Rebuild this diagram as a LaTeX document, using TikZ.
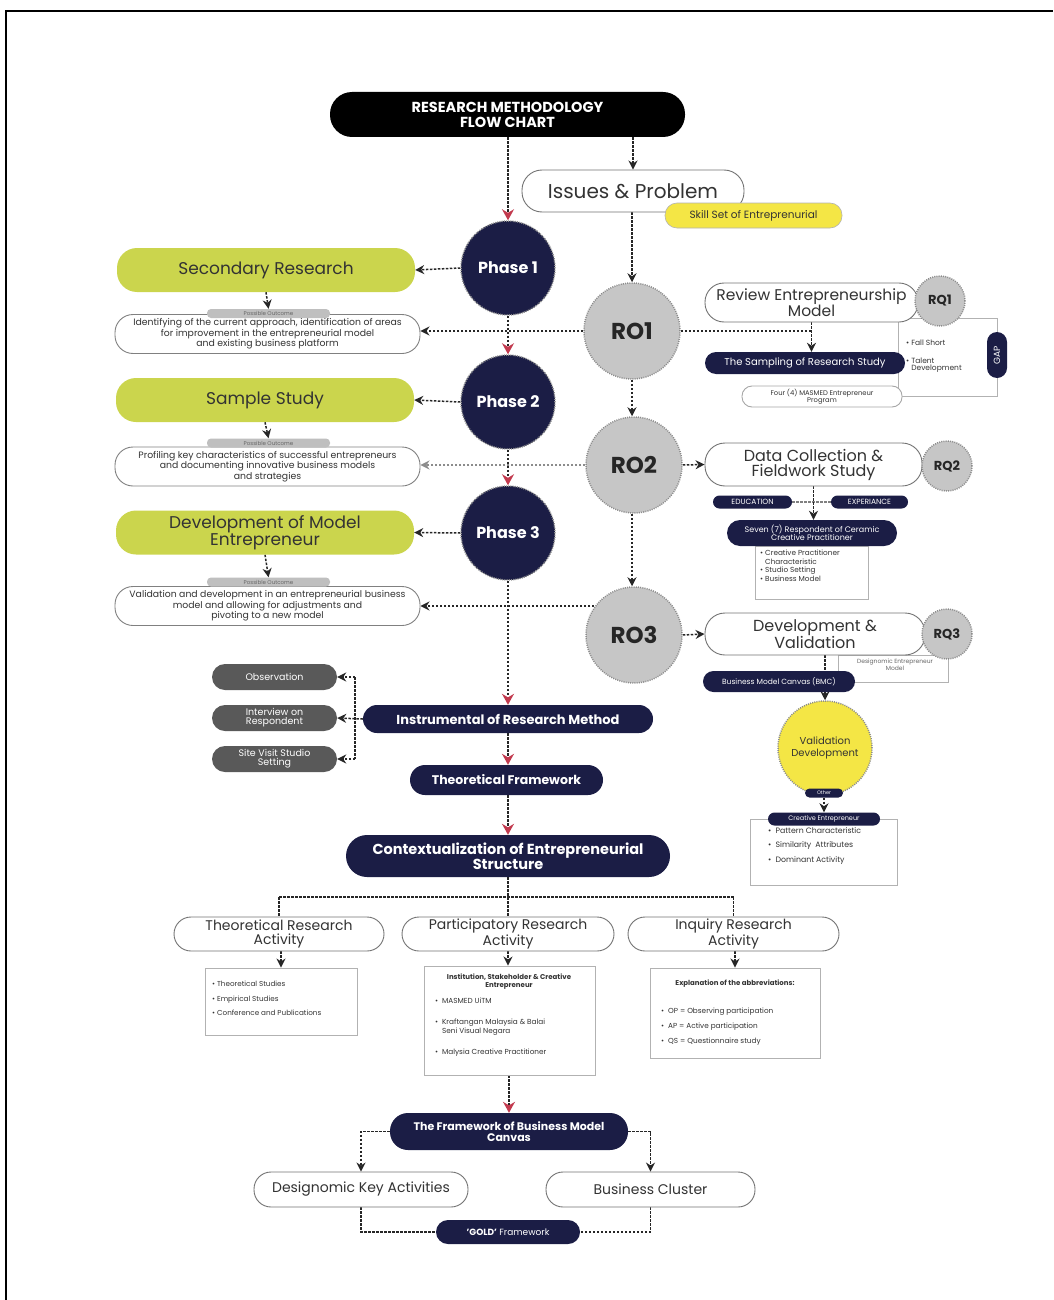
\documentclass[tikz,border=0pt]{standalone}
\usepackage{fontspec}
\setmainfont{Poppins}
\usetikzlibrary{arrows.meta,backgrounds,calc}
\definecolor{navy}{HTML}{1B1D45}
\definecolor{rogray}{HTML}{C6C6C6}
\definecolor{lgreen}{HTML}{CBD54D}
\definecolor{yel}{HTML}{F4E645}
\definecolor{dgray}{HTML}{595959}
\definecolor{redarr}{HTML}{C23A4E}
\definecolor{txt}{HTML}{333333}
\newcommand\fsz[2]{\fontsize{#1}{#2}\selectfont}
\begin{document}
\begin{tikzpicture}[x=1pt,y=-1pt,
 base/.style={inner sep=0pt, align=center},
 navypill/.style={base, fill=navy, text=white},
 wbox/.style={base, fill=white, draw=black!55, line width=0.9pt, text=txt},
 gbox/.style={base, fill=lgreen, text=txt, rounded corners=20pt, minimum width=298pt, minimum height=44pt, font=\fsz{17}{16}},
 outbox/.style={base, fill=white, draw=black!50, line width=0.9pt, text=txt, rounded corners=18pt, minimum width=305pt, minimum height=39pt, font=\fsz{9.3}{10.5}},
 tag/.style={base, fill=black!25, text=black!60, rounded corners=4pt, minimum width=123pt, minimum height=9pt, font=\fsz{5.5}{6}},
 dotc/.style={draw=black!45, dash pattern=on 1pt off 1.2pt, line width=1.5pt},
 phase/.style={base, circle, fill=navy, text=white, dotc, minimum size=94pt, font=\bfseries\fsz{16}{18}},
 ro/.style={base, circle, fill=rogray, text=black!85, dotc, minimum size=96pt, font=\bfseries\fsz{23}{25}},
 rq/.style={base, circle, fill=rogray, text=black!85, dotc, minimum size=50pt, font=\bfseries\fsz{13}{15}},
 conn/.style={draw=black!85, line width=1.5pt, dash pattern=on 2.5pt off 1.5pt},
 arr/.style={conn, -{Stealth[length=9pt,width=9pt]}},
 rarr/.style={conn, -{Stealth[length=11pt,width=12pt,color=redarr]}},
 graybox/.style={draw=black!30, line width=0.9pt, inner sep=0pt},
 small/.style={inner sep=0pt, align=left, text=txt, anchor=north west},
 darkpill/.style={base, fill=dgray, text=white, rounded corners=13pt, minimum width=125pt, minimum height=26pt, font=\fsz{9.5}{9}},
 ]
\useasboundingbox (0,0) rectangle (1053,1300);
\draw[line width=2.5pt] (6,1300) -- (6,11) -- (1053,11);

% ---------- top
\node[base, fill=black, text=white, rounded corners=22pt, minimum width=355pt, minimum height=45pt, font=\bfseries\fsz{14.5}{15}] (title) at (507.5,114.5) {RESEARCH METHODOLOGY\\FLOW CHART};
\node[wbox, rounded corners=20pt, minimum width=222pt, minimum height=42pt, font=\fsz{20}{20}] (issues) at (633,191) {Issues \& Problem};
\node[base, fill=yel, draw=black!30, line width=0.6pt, text=txt, rounded corners=12pt, minimum width=177pt, minimum height=25pt, font=\fsz{10.5}{11}] (skill) at (753.5,215.5) {Skill Set of Entreprenurial};

% ---------- phases and ROs
\node[phase] (p1) at (508,268) {Phase 1};
\node[phase] (p2) at (508,402) {Phase 2};
\node[phase] (p3) at (508,533) {Phase 3};
\node[ro] (ro1) at (632,331) {RO1};
\node[ro] (ro2) at (634,465) {RO2};
\node[ro] (ro3) at (634,635) {RO3};

% ---------- left column
\node[gbox] (sec) at (266,270) {Secondary Research};
\node[outbox] (out1) at (267.5,334) {Identifying of the current approach, identification of areas\\for improvement in the entrepreneurial model\\and existing business platform};
\node[tag] (tag1) at (268.5,313.5) {Possible Outcome};
\node[gbox] (samp) at (265,400) {Sample Study};
\node[outbox] (out2) at (267.5,466.5) {Profiling key characteristics of successful entrepreneurs\\and documenting innovative business models\\and strategies};
\node[tag] (tag2) at (268.5,443) {Possible Outcome};
\node[gbox] (dev) at (265,532.5) {Development of Model\\Entrepreneur};
\node[outbox] (out3) at (267.5,606) {Validation and development in an entrepreneurial business\\model and allowing for adjustments and\\pivoting to a new model};
\node[tag] (tag3) at (268.5,582) {Possible Outcome};

% ---------- RO1 side
\node[graybox, minimum width=99pt, minimum height=78pt] (gapbox) at (947.5,357) {};
\node[wbox, rounded corners=19pt, minimum width=213pt, minimum height=39pt, font=\fsz{15.5}{14}] (review) at (811.5,302.5) {Review Entrepreneurship\\Model};
\node[rq] (rq1) at (940,301) {RQ1};
\node[navypill, rounded corners=11pt, minimum width=200pt, minimum height=22pt, font=\fsz{10}{11}] (sampling) at (805,363) {The Sampling of Research Study};
\node[wbox, draw=black!35, rounded corners=10pt, minimum width=160pt, minimum height=21pt, font=\fsz{6.8}{7.5}] (four) at (822,396.5) {Four (4) MASMED Entrepreneur\\Program};
\node[small, font=\fsz{7.5}{7}] (fall) at (906,340) {\textbullet\ Fall Short};
\node[small, font=\fsz{7.5}{7}] (talent) at (906,358) {\textbullet\ Talent\\\phantom{\textbullet\ }Development};
\node[navypill, rounded corners=10pt, minimum width=46pt, minimum height=20pt, rotate=90, font=\fsz{9}{10}] (gap) at (997,355) {GAP};

% ---------- RO2 side
\node[wbox, rounded corners=20pt, minimum width=217pt, minimum height=43pt, font=\fsz{16}{15}] (data) at (813.5,464.5) {Data Collection \&\\Fieldwork Study};
\node[rq] (rq2) at (947,466) {RQ2};
\node[navypill, rounded corners=6.5pt, minimum width=79pt, minimum height=13pt, font=\fsz{7.5}{8}] (edu) at (752.5,502) {EDUCATION};
\node[navypill, rounded corners=6.5pt, minimum width=77pt, minimum height=13pt, font=\fsz{7.5}{8}] (exp) at (869.5,502) {EXPERIANCE};
\node[graybox, minimum width=113pt, minimum height=53pt] (sevenbox) at (811.5,572.5) {};
\node[navypill, rounded corners=13pt, minimum width=170pt, minimum height=26pt, font=\fsz{8}{8.5}] (seven) at (812,533) {Seven (7) Respondent of Ceramic\\Creative Practitioner};
\node[small, font=\fsz{7.3}{8.5}] (sevenlist) at (760,550) {\textbullet\ Creative Practitioner\\\phantom{\textbullet\ }Characteristic\\\textbullet\ Studio Setting\\\textbullet\ Business Model};

% ---------- RO3 side
\node[graybox, minimum width=110pt, minimum height=27pt] (desbox) at (893,668.5) {};
\node[base, text=black!60, font=\fsz{6}{6}] (destext) at (895,665) {Designomic Entrepreneur\\Model};
\node[wbox, rounded corners=20pt, minimum width=220pt, minimum height=42pt, font=\fsz{16}{15}] (devval) at (815,634) {Development \&\\Validation};
\node[rq] (rq3) at (947,634) {RQ3};
\node[navypill, rounded corners=10.5pt, minimum width=152pt, minimum height=21pt, font=\fsz{7.5}{8}] (bmc) at (779,681.5) {Business Model Canvas (BMC)};
\node[base, circle, fill=yel, dotc, text=txt, minimum size=94pt, font=\fsz{10}{12}] (valc) at (825,748) {Validation\\Development};
\node[navypill, rounded corners=4.5pt, minimum width=38pt, minimum height=9pt, font=\fsz{5}{5}] (other) at (824,793) {Other};
\node[graybox, minimum width=147pt, minimum height=66pt] (crbox) at (823.5,852) {};
\node[navypill, rounded corners=6.5pt, minimum width=112pt, minimum height=13pt, font=\fsz{6.5}{7}] (creative) at (824,819) {Creative Entrepreneur};
\node[small, font=\fsz{7.8}{14.5}] (crlist) at (768,827) {\textbullet\ \ Pattern Characteristic\\\textbullet\ \ Similarity\ \ Attributes\\\textbullet\ \ Dominant Activity};

% ---------- instrument column
\node[darkpill] (obs) at (274.5,677) {Observation};
\node[darkpill] (intv) at (274.5,718) {Interview on\\Respondent};
\node[darkpill] (site) at (274.5,759) {Site Visit Studio\\Setting};
\coordinate (bx) at (355,718);
\node[navypill, rounded corners=14pt, minimum width=290pt, minimum height=28pt, font=\bfseries\fsz{13}{14}] (instr) at (508,719) {Instrumental of Research Method};
\node[navypill, rounded corners=15pt, minimum width=193pt, minimum height=30pt, font=\bfseries\fsz{12.5}{14}] (theo) at (506.5,780) {Theoretical Framework};
\node[navypill, rounded corners=21pt, minimum width=324pt, minimum height=42pt, font=\bfseries\fsz{14.5}{14}] (ctx) at (508,856) {Contextualization of Entrepreneurial\\Structure};
\coordinate (split) at (508,897);

% ---------- research activities
\node[wbox, rounded corners=17pt, minimum width=210pt, minimum height=34pt, font=\fsz{14}{13.5}] (tra) at (279,934) {Theoretical Research\\Activity};
\node[wbox, rounded corners=17pt, minimum width=212pt, minimum height=34pt, font=\fsz{14}{13.5}] (pra) at (508,934) {Participatory Research\\Activity};
\node[wbox, rounded corners=17pt, minimum width=211pt, minimum height=34pt, font=\fsz{14}{13.5}] (ira) at (733.5,934) {Inquiry Research\\Activity};

\node[graybox, minimum width=152pt, minimum height=67pt] (r1) at (281,1001.5) {};
\node[small, font=\fsz{7.2}{14.5}] (r1t) at (212,981) {\textbullet\ Theoretical Studies\\\textbullet\ Empirical Studies\\\textbullet\ Conference and Publications};
\node[graybox, minimum width=171pt, minimum height=109pt] (r2) at (509.5,1020.5) {};
\node[base, text=txt, font=\bfseries\fsz{7}{8}] (r2h) at (509,982) {Institution, Stakeholder \& Creative\\Entrepreneur};
\node[small, font=\fsz{7.3}{9}] (r2a) at (435,998) {\textbullet\ \ MASMED UiTM};
\node[small, font=\fsz{7.3}{9}] (r2b) at (435,1019) {\textbullet\ \ Kraftangan Malaysia \& Balai\\\phantom{\textbullet\ \ }Seni Visual Negara};
\node[small, font=\fsz{7.3}{9}] (r2c) at (435,1049) {\textbullet\ \ Malysia Creative Practitioner};
\node[graybox, minimum width=170pt, minimum height=90pt] (r3) at (735,1013) {};
\node[base, text=txt, font=\bfseries\fsz{7}{8}] (r3h) at (735,984) {Explanation of the abbreviations:};
\node[small, font=\fsz{7.3}{15}] (r3t) at (661,1008) {\textbullet\ \ OP = Observing participation\\\textbullet\ \ AP = Active participation\\\textbullet\ \ QS = Questionnaire study};

% ---------- bottom
\node[navypill, rounded corners=18pt, minimum width=238pt, minimum height=37pt, font=\bfseries\fsz{11}{11.5}] (fbmc) at (509,1131.5) {The Framework of Business Model\\Canvas};
\node[wbox, rounded corners=17pt, minimum width=214pt, minimum height=35pt, font=\fsz{14}{15}] (dka) at (361,1189.5) {Designomic Key Activities};
\node[wbox, rounded corners=17pt, minimum width=209pt, minimum height=35pt, font=\fsz{14}{15}] (bc) at (650.5,1189.5) {Business Cluster};
\node[navypill, rounded corners=12pt, minimum width=144pt, minimum height=24pt, font=\fsz{9}{10}] (gold) at (508,1232) {\textbf{'GOLD'} Framework};

% ---------- connectors
\begin{scope}[on background layer]
\draw[rarr] (p1|-title.south) -- (p1.north);
\draw[arr] (issues|-title.south) -- (issues.north);
\draw[arr] (ro1|-issues.south) -- (ro1.north);
\draw[rarr] (p1.south) -- (p2.north);
\draw[rarr] (p2.south) -- (p3.north);
\draw[rarr] (p3.south) -- (instr.north);
\draw[arr] (ro1.south) -- (ro1|-ro2.north);
\draw[arr] (ro2.south-|ro1) -- (ro1|-ro3.north);
\draw[arr] (p1.west) -- (sec.east);
\draw[arr] (p2.west) -- (samp.east);
\draw[arr] (p3.west) -- (dev.east);
\draw[arr] (ro1) -- (out1.east|-ro1);
\draw[arr, draw=black!45] (ro2) -- (out2.east|-ro2);
\draw[arr] (ro3|-out3.east) -- (out3.east);
\draw[arr] (sec.south) -- (tag1.north);
\draw[arr] (samp.south) -- (tag2.north);
\draw[arr] (dev.south) -- (tag3.north);
% RO1 side
\draw[conn] (ro1) -- (review.south|-ro1);
\draw[arr] (review.south) -- (review.south|-sampling.north);
% RO2 side
\draw[arr] (ro2.east) -- (data.west);
\draw[conn, draw=black!50] (edu.east) -- (exp.west);
\draw[arr] (data.south) -- (data.south|-seven.north);
% RO3 side
\draw[arr] (ro3.east) -- (devval.west);
\draw[arr] (valc|-devval.south) -- (valc.north);
\draw[arr] (other.south) -- (creative.north);
% instruments
\draw[arr] (instr.west) -- (intv.east);
\draw[conn] (bx|-obs) -- (bx|-site);
\draw[arr] (bx|-obs) -- (obs.east);
\draw[arr] (bx|-site) -- (site.east);
\draw[rarr] (instr.south) -- (theo.north-|instr);
\draw[rarr] (theo.south-|instr) -- (ctx.north);
\draw[conn] (ctx.south) -- (split);
\draw[conn] (split-|tra) -- (split-|ira);
\draw[conn] (split) -- (pra.north);
\draw[conn] (split-|tra) -- (tra.north);
\draw[conn] (split-|ira) -- (ira.north);
\draw[arr] (tra.south-|r1) -- (r1.north);
\draw[arr] (pra.south) -- (pra.south|-r2.north);
\draw[arr] (ira.south-|r3) -- (r3.north);
\draw[rarr] (r2.south-|fbmc) -- (fbmc.north);
\draw[arr] (fbmc.west) -| (dka.north);
\draw[arr] (fbmc.east) -| (bc.north);
\draw[conn] (dka.south) |- (gold.west);
\draw[conn] (bc.south) |- (gold.east);
\end{scope}
\end{tikzpicture}
\end{document}
